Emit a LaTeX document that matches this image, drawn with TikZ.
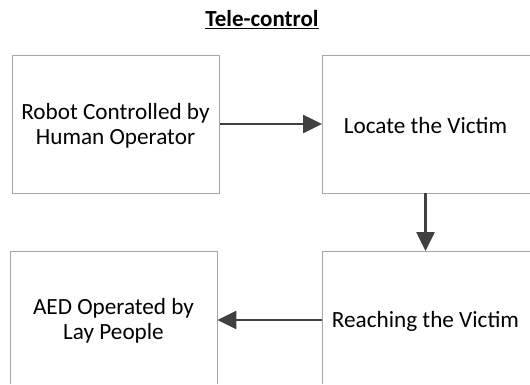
\documentclass[tikz,border=0pt]{standalone}
\usepackage{fontspec}
\setmainfont{Carlito}
\usetikzlibrary{arrows.meta}
\definecolor{boxline}{HTML}{A6A6A6}
\definecolor{arrowcol}{HTML}{404040}
\tikzset{
  stepbox/.style={minimum width=207pt, minimum height=138pt, inner sep=0pt, anchor=north west},
  border/.style={draw=boxline, line width=1pt},
  steptext/.style={align=center, inner sep=0pt, font=\fontsize{23.2}{25}\selectfont, text=black},
  flow/.style={draw=arrowcol, line width=2.6pt, -{Triangle[length=19pt,width=18pt]}}
}
\begin{document}
\begin{tikzpicture}[x=1pt,y=-1pt]
\useasboundingbox (0,0) rectangle (530,384);
\node[font=\fontsize{23}{24}\selectfont\bfseries] (title) at (262,20) {\underline{Tele-control}};
\node[stepbox, border] (b1) at (12,55) {};
\node[steptext] (t1) at (115.5,126) {Robot Controlled by\\Human Operator};
\node[stepbox, minimum width=208pt] (b2) at (322,55) {};
\draw[border] (b2.north east) -- (b2.north west) -- (b2.south west) -- (b2.south east);
\node[steptext] (t2) at (425.5,126) {Locate the Victim};
\node[stepbox, minimum height=133pt] (b3) at (10,251) {};
\draw[border] (b3.south west) -- (b3.north west) -- (b3.north east) -- (b3.south east);
\node[steptext] (t3) at (113.5,321) {AED Operated by\\Lay People};
\node[stepbox, minimum width=208pt, minimum height=133pt] (b4) at (322,251) {};
\draw[border] (b4.north east) -- (b4.north west) -- (b4.south west);
\node[steptext] (t4) at (425.5,321) {Reaching the Victim};
\draw[flow] (b1.east |- 0,124) -- (b2.west |- 0,124);
\draw[flow] (b2.south -| 425.5,0) -- (b4.north -| 425.5,0);
\draw[flow] (b4.west |- 0,320) -- (b3.east |- 0,320);
\end{tikzpicture}
\end{document}
